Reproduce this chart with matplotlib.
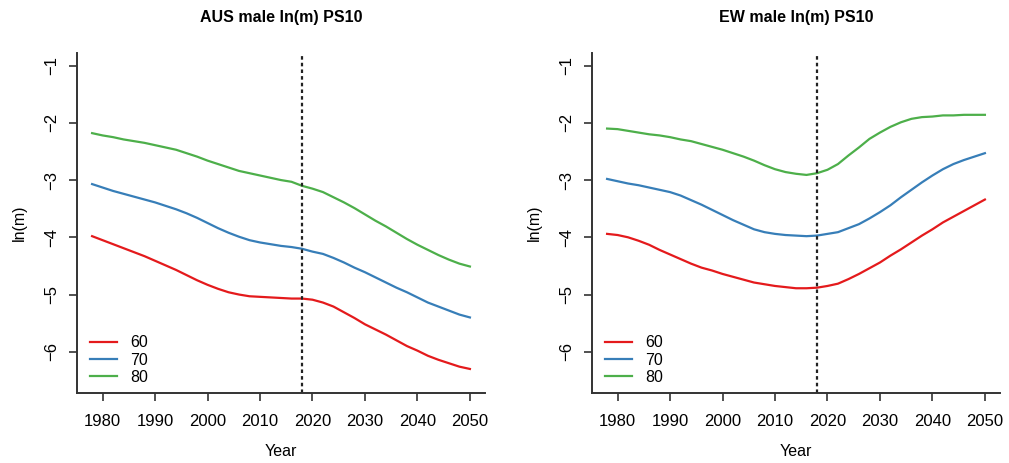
import matplotlib
matplotlib.use("Agg")
import matplotlib.pyplot as plt

plt.rcParams['font.family'] = ['Liberation Sans', 'DejaVu Sans']

years = list(range(1978, 2051, 2))
ages = ["60", "70", "80"]
colors = ["#E41A1C", "#377EB8", "#4DAF4A"]
jump_off = 2018

# AUS male ln(m), ages 60 / 70 / 80 (every 2 years)
aus_60 = [-3.98, -4.05, -4.12, -4.19, -4.26, -4.33, -4.41, -4.49, -4.57, -4.66,
          -4.75, -4.83, -4.90, -4.96, -5.00, -5.03, -5.04, -5.05, -5.06, -5.07,
          -5.07, -5.09, -5.14, -5.21, -5.31, -5.41, -5.52, -5.61, -5.70, -5.80,
          -5.90, -5.98, -6.07, -6.14, -6.20, -6.26, -6.30]
aus_70 = [-3.07, -3.13, -3.19, -3.24, -3.29, -3.34, -3.39, -3.45, -3.51, -3.58,
          -3.66, -3.75, -3.84, -3.92, -3.99, -4.05, -4.09, -4.12, -4.15, -4.17,
          -4.20, -4.25, -4.29, -4.36, -4.44, -4.53, -4.61, -4.70, -4.79, -4.88,
          -4.96, -5.05, -5.14, -5.21, -5.28, -5.35, -5.40]
aus_80 = [-2.18, -2.22, -2.25, -2.29, -2.32, -2.35, -2.39, -2.43, -2.47, -2.53,
          -2.59, -2.66, -2.72, -2.78, -2.84, -2.88, -2.92, -2.96, -3.00, -3.03,
          -3.10, -3.15, -3.21, -3.30, -3.39, -3.49, -3.60, -3.71, -3.81, -3.92,
          -4.03, -4.13, -4.22, -4.31, -4.39, -4.46, -4.51]

# EW male ln(m), ages 60 / 70 / 80
ew_60 = [-3.94, -3.96, -4.00, -4.06, -4.13, -4.22, -4.30, -4.38, -4.46, -4.53,
         -4.58, -4.64, -4.69, -4.74, -4.79, -4.82, -4.85, -4.87, -4.89, -4.89,
         -4.88, -4.85, -4.81, -4.73, -4.64, -4.54, -4.44, -4.32, -4.21, -4.09,
         -3.97, -3.86, -3.74, -3.64, -3.54, -3.44, -3.34]
ew_70 = [-2.98, -3.02, -3.06, -3.09, -3.13, -3.17, -3.21, -3.27, -3.35, -3.43,
         -3.52, -3.61, -3.70, -3.78, -3.86, -3.91, -3.94, -3.96, -3.97, -3.98,
         -3.97, -3.94, -3.91, -3.84, -3.77, -3.67, -3.56, -3.44, -3.30, -3.17,
         -3.04, -2.92, -2.81, -2.72, -2.65, -2.59, -2.53]
ew_80 = [-2.10, -2.11, -2.14, -2.17, -2.20, -2.22, -2.25, -2.29, -2.32, -2.37,
         -2.42, -2.47, -2.53, -2.59, -2.66, -2.74, -2.81, -2.86, -2.89, -2.91,
         -2.88, -2.82, -2.72, -2.57, -2.43, -2.28, -2.17, -2.07, -1.99, -1.93,
         -1.90, -1.89, -1.87, -1.87, -1.86, -1.86, -1.86]

panels = [("AUS male ln(m) PS10", [aus_60, aus_70, aus_80]),
          ("EW male ln(m) PS10", [ew_60, ew_70, ew_80])]

fig = plt.figure(figsize=(10.09, 4.63), dpi=100)
lefts = [0.0763, 0.5867]
fs = 11.5

for left, (title, series) in zip(lefts, panels):
    ax = fig.add_axes([left, 0.1512, 0.4044, 0.7343])
    for vals, lab, col in zip(series, ages, colors):
        ax.plot(years, vals, color=col, lw=1.6, label=lab)
    ax.axvline(jump_off, color="#222222", lw=1.6, linestyle=(0, (1.6, 1.4)))

    ax.set_xlim(1975.12, 2052.88)
    ax.set_ylim(-6.72, -0.78)
    ax.set_xticks(range(1980, 2051, 10))
    ax.set_yticks([-6, -5, -4, -3, -2, -1])
    ax.set_yticklabels(["\u22126", "\u22125", "\u22124", "\u22123", "\u22122", "\u22121"],
                       rotation=90, va="center")
    ax.tick_params(axis="both", direction="out", length=6, width=1.2,
                   labelsize=12, color="#333333")
    ax.tick_params(axis="x", pad=9)
    ax.tick_params(axis="y", pad=7)
    for s in ["top", "right"]:
        ax.spines[s].set_visible(False)
    for s in ["left", "bottom"]:
        ax.spines[s].set_linewidth(1.4)
        ax.spines[s].set_color("#333333")

    ax.set_title(title, fontsize=fs, fontweight="bold", pad=22)
    ax.set_xlabel("Year", fontsize=fs, labelpad=11)
    ax.set_ylabel("ln(m)", fontsize=fs, labelpad=12)

    ax.legend(loc="lower left", bbox_to_anchor=(0.013, 0.0), frameon=False,
              fontsize=fs, handlelength=1.7, handletextpad=0.8,
              labelspacing=0.15, borderpad=0.4, borderaxespad=0.1)

fig.savefig("out.png", dpi=100)
